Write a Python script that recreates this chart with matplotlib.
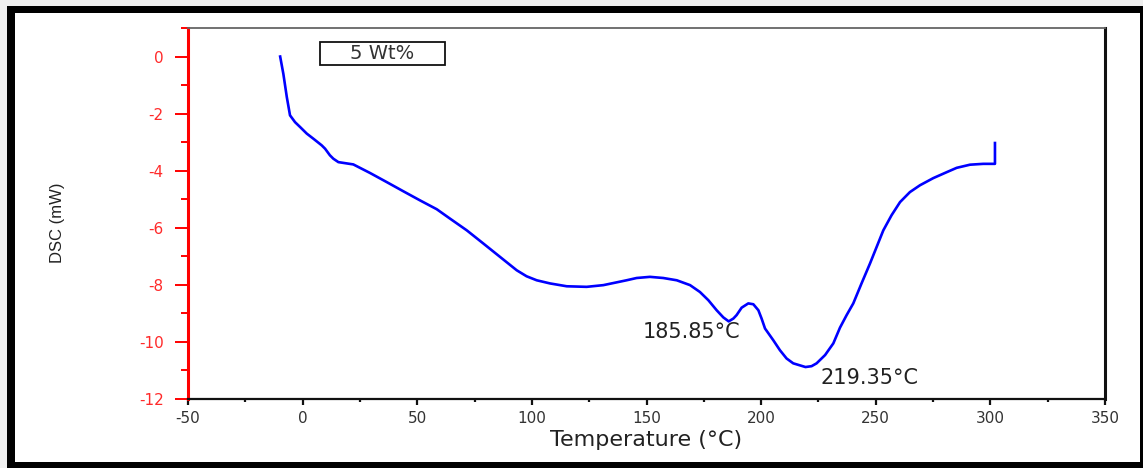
import matplotlib
matplotlib.use("Agg")
import matplotlib.pyplot as plt
from matplotlib.patches import Rectangle
from matplotlib.ticker import MultipleLocator

plt.rcParams["axes.unicode_minus"] = False

# DSC heat-flow trace for the 5 wt% sample
temperature = [-9.8, -8.4, -6.9, -5.5, -3.3, -1.1, 1.8, 4.7, 8.3, 9.8,
               11.9, 13.4, 15.6, 22.1, 29.4, 36.7, 43.9, 51.2, 58.5, 64.3,
               71.6, 78.8, 86.1, 93.4, 97.7, 102.1, 107.9, 115.2, 123.9, 131.2,
               141.3, 145.7, 151.5, 157.3, 163.2, 169.0, 173.3, 177.0, 180.6, 183.5,
               185.85, 187.9, 189.3, 191.5, 194.4, 196.6, 198.8, 200.2, 201.7, 205.3,
               208.2, 211.1, 214.0, 219.35, 222.0, 224.2, 227.9, 231.5, 234.4, 237.3,
               240.2, 243.8, 247.5, 250.4, 253.3, 256.9, 260.6, 264.9, 269.3, 275.1,
               281.0, 285.3, 291.1, 296.9, 302.0, 302.0]
dsc = [0.0, -0.61, -1.42, -2.06, -2.3, -2.47, -2.7, -2.88, -3.11, -3.23,
       -3.46, -3.58, -3.7, -3.78, -4.08, -4.4, -4.72, -5.04, -5.35, -5.68,
       -6.09, -6.55, -7.02, -7.49, -7.7, -7.84, -7.95, -8.05, -8.07, -8.01,
       -7.84, -7.76, -7.72, -7.76, -7.84, -8.01, -8.25, -8.54, -8.89, -9.14,
       -9.28, -9.18, -9.06, -8.8, -8.65, -8.68, -8.89, -9.18, -9.53, -9.94,
       -10.29, -10.58, -10.75, -10.88, -10.85, -10.75, -10.46, -10.05, -9.5, -9.06,
       -8.65, -7.95, -7.25, -6.67, -6.09, -5.56, -5.1, -4.75, -4.51, -4.26,
       -4.05, -3.9, -3.79, -3.76, -3.76, -3.03]

# Labelled peak minima
peak_temps = [185.85, 219.35]
peak_values = [-9.28, -10.88]
peak_offsets = [(-27, -8), (46, -8)]

x_ticks = [-50, 0, 50, 100, 150, 200, 250, 300, 350]
y_ticks = [0, -2, -4, -6, -8, -10, -12]
sample_label = "5 Wt%"

W, H = 1143, 468
fig = plt.figure(figsize=(W / 100, H / 100), dpi=100)
fig.patch.set_facecolor("#efefef")

def px_rect(x0, y0, x1, y1, color):
    fig.patches.append(Rectangle((x0 / W, 1 - y1 / H), (x1 - x0) / W, (y1 - y0) / H,
                                 transform=fig.transFigure, facecolor=color,
                                 edgecolor="none", zorder=-5))

# page frame
px_rect(7, 6, W, H, "white")
px_rect(7, 6, 15, 468, "black")
px_rect(7, 6, 1143, 13, "black")
px_rect(7, 462, 1143, 468, "black")
px_rect(1140, 6, 1143, 468, "black")

ax = fig.add_axes([188 / W, 1 - 399 / H, (1105 - 188) / W, (399 - 28) / H])
ax.set_facecolor("white")

ax.plot(temperature, dsc, color="#0000ff", lw=1.9, solid_joinstyle="round")

for t, v, off in zip(peak_temps, peak_values, peak_offsets):
    ax.annotate(f"{t:.2f}°C", xy=(t, v), xytext=off, textcoords="offset points",
                ha="center", va="center", fontsize=15, color="#222222",
                family="DejaVu Sans")

ax.set_xlim(-50, 350)
ax.set_ylim(-12, 1)
ax.set_xticks(x_ticks)
ax.set_yticks(y_ticks)
ax.xaxis.set_minor_locator(MultipleLocator(25))
ax.yaxis.set_minor_locator(MultipleLocator(1))

ax.spines["left"].set_color("#ff0000")
ax.spines["left"].set_linewidth(2.2)
ax.spines["bottom"].set_color("#111111")
ax.spines["bottom"].set_linewidth(1.6)
ax.spines["right"].set_color("#111111")
ax.spines["right"].set_linewidth(2.2)
ax.spines["top"].set_color("#666666")
ax.spines["top"].set_linewidth(1.3)

ax.tick_params(axis="y", which="major", direction="out", length=9.5, width=1.4,
               color="#ff0000", labelcolor="#ff2a2a", labelsize=11, pad=8)
ax.tick_params(axis="y", which="minor", direction="out", length=5, width=1.4,
               color="#ff0000")
ax.tick_params(axis="x", which="major", direction="out", length=4.5, width=1.6,
               color="#111111", labelcolor="#333333", labelsize=11, pad=4)
ax.tick_params(axis="x", which="minor", direction="out", length=2.5, width=1.6,
               color="#111111")
for lab in ax.get_xticklabels() + ax.get_yticklabels():
    lab.set_family("DejaVu Sans")

ax.set_xlabel("Temperature (°C)", fontsize=16, color="#222222", family="DejaVu Sans")
ax.xaxis.set_label_coords(0.5, -0.11)
ax.xaxis.label.set_va("center")
ax.set_ylabel("DSC (mW)", fontsize=12, color="#222222", family="Liberation Sans")
ax.yaxis.set_label_coords(-0.142, 0.474)
ax.yaxis.label.set_va("center")

# sample tag box
ax.add_patch(Rectangle((0.144, 0.900), 0.136, 0.062, transform=ax.transAxes,
                       facecolor="white", edgecolor="#111111", lw=1.3, zorder=3))
ax.text(0.212, 0.931, sample_label, transform=ax.transAxes, ha="center", va="center",
        fontsize=14, color="#333333", family="DejaVu Sans", zorder=4)

fig.savefig("out.png", dpi=100, facecolor=fig.get_facecolor())
